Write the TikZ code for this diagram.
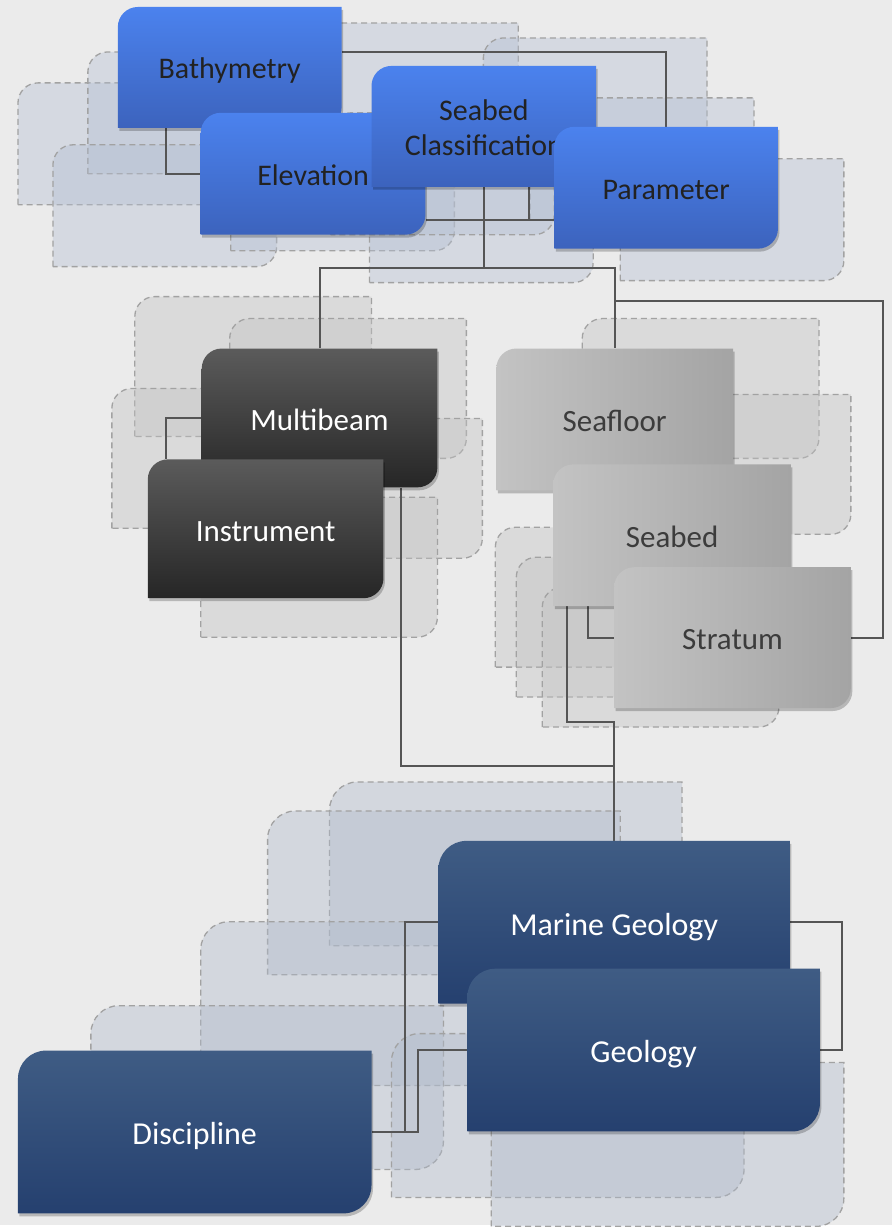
\documentclass[tikz,border=0pt]{standalone}
\usepackage{fontspec}
\setmainfont{Carlito}
\usetikzlibrary{calc}
\pgfdeclarelayer{bg}
\pgfdeclarelayer{conn}
\pgfsetlayers{bg,conn,main}
\definecolor{bgc}{HTML}{EBEBEB}
\definecolor{bluetop}{HTML}{4B82EE}
\definecolor{bluebot}{HTML}{3C63BD}
\definecolor{blacktop}{HTML}{5B5B5B}
\definecolor{blackbot}{HTML}{262626}
\definecolor{grayl}{HTML}{C3C3C3}
\definecolor{grayr}{HTML}{A4A4A4}
\definecolor{navytop}{HTML}{3F5C84}
\definecolor{navybot}{HTML}{25406F}
\definecolor{darktext}{HTML}{222222}
\definecolor{graytext}{HTML}{3C3C3C}
\definecolor{connc}{HTML}{555555}
\definecolor{dashc}{HTML}{A2A2A2}
\definecolor{dblue}{HTML}{B4BFD2}
\definecolor{dgray}{HTML}{C2C2C2}
\definecolor{dnavy}{HTML}{B0BACB}
\tikzset{
  boxtext/.style={inner sep=0pt, align=center},
  topfont/.style={font=\fontsize{30}{35}\selectfont, text height=31pt, text depth=10pt},
  midfont/.style={font=\fontsize{31}{35}\selectfont, text height=33pt, text depth=10pt},
  botfont/.style={font=\fontsize{32}{35}\selectfont, text height=34pt, text depth=10pt},
  conn/.style={draw=connc, line width=2pt},
  dashbase/.style={draw=dashc, dash pattern=on 6pt off 4pt, line width=1.3pt, fill opacity=.4},
  dashblue/.style={dashbase, fill=dblue},
  dashgray/.style={dashbase, fill=dgray},
  dashnavy/.style={dashbase, fill=dnavy},
  bluefill/.style={top color=bluetop, bottom color=bluebot},
  blackfill/.style={top color=blacktop, bottom color=blackbot},
  grayfill/.style={left color=grayl, right color=grayr},
  navyfill/.style={top color=navytop, bottom color=navybot},
  shadowfill/.style={fill=black, fill opacity=.22},
}
% main box: name, L, T, R, B, radius, fill style, text style, text
\newcommand\mainbox[9]{%
  \fill[shadowfill, xshift=1.5pt, yshift=-3pt] (#2,-#5) -- (#2,-#3-#6) arc[start angle=180,end angle=90,radius=#6pt] -- (#4,-#3) -- (#4,-#5+#6) arc[start angle=0,end angle=-90,radius=#6pt] -- cycle;
  \path[#7] (#2,-#5) -- (#2,-#3-#6) arc[start angle=180,end angle=90,radius=#6pt] -- (#4,-#3) -- (#4,-#5+#6) arc[start angle=0,end angle=-90,radius=#6pt] -- cycle;
  \node[boxtext, #8, minimum width={#4-#2}, minimum height={#5-#3}] (#1) at ({(#2+#4)/2},{-(#3+#5)/2}) {\begin{tabular}{@{}c@{}}#9\end{tabular}};
}
% dashed decorative box: L, T, W, H, radius, style
\newcommand\dbox[6]{%
  \path[#6] (#1,-#2-#4) -- (#1,-#2-#5) arc[start angle=180,end angle=90,radius=#5pt] -- (#1+#3,-#2) -- (#1+#3,-#2-#4+#5) arc[start angle=0,end angle=-90,radius=#5pt] -- cycle;
}
\begin{document}
\begin{tikzpicture}[x=1pt,y=1pt]
\begin{pgfonlayer}{bg}
  \fill[bgc] (0,0) rectangle (893,-1227);
  % top group
  \dbox{18}{83}{224}{122}{20}{dashblue}
  \dbox{88}{52}{224}{122}{20}{dashblue}
  \dbox{53}{145}{224}{122}{20}{dashblue}
  \dbox{231}{129}{224}{122}{20}{dashblue}
  \dbox{295}{23}{224}{122}{20}{dashblue}
  \dbox{484}{38}{224}{122}{20}{dashblue}
  \dbox{531}{98}{224}{122}{20}{dashblue}
  \dbox{621}{159}{224}{122}{20}{dashblue}
  \dbox{370}{161}{224}{122}{20}{dashblue}
  \dbox{331}{113}{224}{122}{20}{dashblue}
  % middle group
  \dbox{135}{297}{237}{140}{20}{dashgray}
  \dbox{230}{319}{237}{140}{20}{dashgray}
  \dbox{112}{389}{237}{140}{20}{dashgray}
  \dbox{246}{419}{237}{140}{20}{dashgray}
  \dbox{201}{498}{237}{140}{20}{dashgray}
  \dbox{583}{319}{237}{140}{20}{dashgray}
  \dbox{615}{395}{237}{140}{20}{dashgray}
  \dbox{496}{528}{237}{140}{20}{dashgray}
  \dbox{517}{558}{237}{140}{20}{dashgray}
  \dbox{543}{588}{237}{140}{20}{dashgray}
  % bottom group
  \dbox{330}{783}{353}{164}{28}{dashnavy}
  \dbox{268}{812}{353}{164}{28}{dashnavy}
  \dbox{201}{923}{353}{164}{28}{dashnavy}
  \dbox{91}{1007}{353}{164}{28}{dashnavy}
  \dbox{392}{1035}{353}{164}{28}{dashnavy}
  \dbox{492}{1064}{353}{164}{28}{dashnavy}
\end{pgfonlayer}
\useasboundingbox (0,0) rectangle (893,-1227);

% top group
\mainbox{bathy}{118}{7}{342}{128}{20}{bluefill}{topfont, text=darktext}{Bathymetry}
\mainbox{elev}{201}{113}{426}{235}{20}{bluefill}{topfont, text=darktext}{Elevation}
\mainbox{sc}{372}{66}{597}{187}{20}{bluefill}{topfont, text=darktext}{Seabed\\Classification}
\mainbox{param}{555}{127}{779}{249}{20}{bluefill}{topfont, text=darktext}{Parameter}
% middle group
\mainbox{mb}{202}{349}{438}{488}{20}{blackfill}{midfont, text=white}{Multibeam}
\mainbox{ins}{148}{460}{384}{599}{20}{blackfill}{midfont, text=white}{Instrument}
\mainbox{sf}{497}{349}{734}{491}{20}{grayfill}{midfont, text=graytext}{Seafloor}
\mainbox{sb}{554}{465}{792}{607}{20}{grayfill}{midfont, text=graytext}{Seabed}
\mainbox{st}{615}{568}{852}{709}{20}{grayfill}{midfont, text=graytext}{Stratum}
% bottom group
\mainbox{mg}{439}{842}{791}{1005}{28}{navyfill}{botfont, text=white}{Marine Geology}
\mainbox{geo}{468}{970}{821}{1133}{28}{navyfill}{botfont, text=white}{Geology}
\mainbox{disc}{18}{1052}{372}{1215}{28}{navyfill}{botfont, text=white}{Discipline}

\begin{pgfonlayer}{conn}
  \draw[conn] ([yshift=-45pt]bathy.north east) -| (param.north);
  \draw[conn] ([xshift=48pt]bathy.south west) |- (elev.west);
  \coordinate (e1) at ([yshift=15pt]elev.south east);
  \draw[conn] (e1) -- (e1 -| param.west);
  \coordinate (s2) at ([xshift=45pt]sc.south);
  \draw[conn] (s2) -- (s2 |- e1);
  \coordinate (j1) at ([yshift=-81pt]sc.south);
  \draw[conn] (sc.south) -- (j1);
  \draw[conn] (mb.north) |- (sf.north |- j1) -- (sf.north);
  \coordinate (j2) at ([yshift=47pt]sf.north);
  \draw[conn] (j2) -| ([xshift=32pt]st.east) -- (st.east);
  \draw[conn] (mb.west) -| ([xshift=18pt]ins.north west);
  \coordinate (j3) at ([yshift=75pt]mg.north);
  \draw[conn] ([xshift=-37pt]mb.south east) |- (j3) -- (mg.north);
  \draw[conn] ([xshift=14pt]sb.south west) |- ([yshift=44pt]j3) -- (j3);
  \draw[conn] ([xshift=35pt]sb.south west) |- (st.west);
  \draw[conn] (mg.east) -| ([xshift=22pt]geo.east) -- (geo.east);
  \draw[conn] (disc.east) -| ([xshift=-49pt]geo.west) -- (geo.west);
  \draw[conn] (mg.west) -| ([xshift=33pt]disc.east);
\end{pgfonlayer}
\end{tikzpicture}
\end{document}
